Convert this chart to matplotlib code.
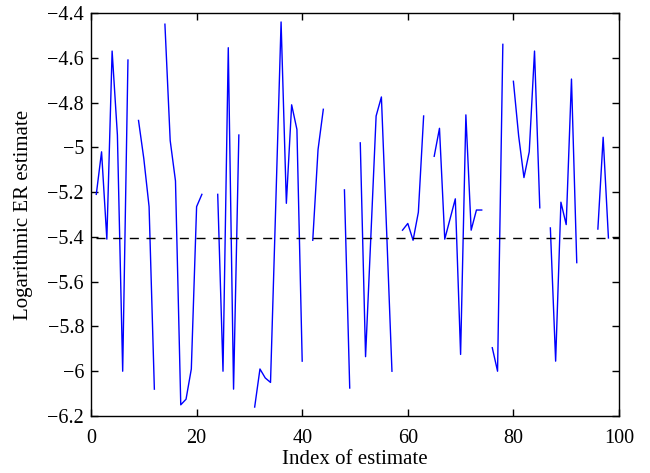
import numpy as np
import matplotlib
matplotlib.use("Agg")
import matplotlib.pyplot as plt

nan = np.nan
index = np.arange(1, 101)
er_estimate = [
    -5.21, -5.02, -5.41, -4.57, -4.945, -6.00, -4.61, nan, -4.88, -5.05,
    -5.265, -6.08, nan, -4.45, -4.97, -5.15, -6.15, -6.125, -5.99, -5.265,
    -5.21, nan, nan, -5.21, -6.00, -4.555, -6.08, -4.945, nan, nan,
    -6.16, -5.99, -6.03, -6.05, -5.25, -4.44, -5.25, -4.81, -4.92, -5.955,
    nan, -5.415, -5.01, -4.83, nan, nan, nan, -5.19, -6.075, nan,
    -4.98, -5.935, -5.40, -4.86, -4.775, -5.38, -6.00, nan, -5.37, -5.34,
    -5.415, -5.29, -4.86, nan, -5.04, -4.915, -5.41, -5.32, -5.23, -5.925,
    -4.855, -5.37, -5.28, -5.28, nan, -5.895, -6.00, -4.54, nan, -4.705,
    -4.95, -5.135, -5.02, -4.57, -5.27, nan, -5.36, -5.955, -5.245, -5.345,
    -4.695, -5.515, nan, nan, nan, -5.365, -4.955, -5.405, nan, nan,
]
reference_level = -5.405
xticks = [0, 20, 40, 60, 80, 100]
yticks = [-6.2, -6.0, -5.8, -5.6, -5.4, -5.2, -5.0, -4.8, -4.6, -4.4]
ytick_labels = ["\u22126.2", "\u22126", "\u22125.8", "\u22125.6", "\u22125.4",
                "\u22125.2", "\u22125", "\u22124.8", "\u22124.6", "\u22124.4"]

plt.rcParams['font.family'] = ['Liberation Serif', 'DejaVu Serif']
fig = plt.figure(figsize=(6.5, 4.73), dpi=100)
ax = fig.add_axes([0.14, 0.1205, 0.8123, 0.852])

ax.plot(index, er_estimate, color=(0, 0, 1), linewidth=1.0)
ax.plot([index[0], index[-1]], [reference_level, reference_level],
        color='black', linestyle=(0, (6.5, 5.5)), linewidth=1.0)

ax.set_xlim(0, 100)
ax.set_ylim(-6.2, -4.4)
ax.set_xticks(xticks)
ax.set_xticklabels([str(t) for t in xticks])
ax.set_yticks(yticks)
ax.set_yticklabels(ytick_labels)
ax.tick_params(direction='in', top=True, right=True, length=5, width=1,
               labelsize=14.5)
ax.tick_params(axis='y', pad=5)
ax.tick_params(axis='x', pad=9)
for s in ax.spines.values():
    s.set_linewidth(1.0)
ax.set_xlabel("Index of estimate", fontsize=15, labelpad=2)
ax.set_ylabel("Logarithmic ER estimate", fontsize=15, labelpad=10)

fig.savefig("out.png", dpi=100)
